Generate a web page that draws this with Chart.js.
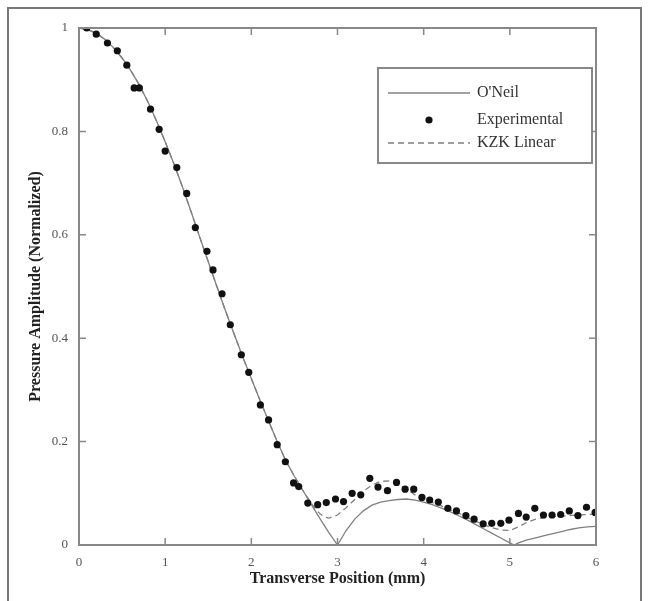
<!DOCTYPE html>
<html>
<head>
<meta charset="utf-8">
<script src="https://cdn.jsdelivr.net/npm/chart.js@4.4.1/dist/chart.umd.min.js"></script>
<style>
  body { margin: 0; background: #fff; }
  #wrap { position: relative; width: 648px; height: 601px; overflow: hidden; }
  #frame { position: absolute; left: 7px; top: 7px; width: 631px; height: 640px; border: 2px solid #777; }
  canvas { position: absolute; left: 0; top: 0; }
</style>
</head>
<body>
<div id="wrap">
  <div id="frame"></div>
  <canvas id="chart" width="648" height="601"></canvas>
</div>
<script>
// O'Neil theory curve
const oneilX = [0, 0.1, 0.2, 0.3, 0.4, 0.5, 0.6, 0.7, 0.8, 0.9, 1.0, 1.1, 1.2, 1.3, 1.4, 1.5, 1.6, 1.7, 1.8, 1.9,
  2.0, 2.1, 2.2, 2.3, 2.4, 2.5, 2.6, 2.7, 2.8, 2.9, 3.0, 3.1, 3.2, 3.3, 3.4, 3.5, 3.6, 3.7, 3.8, 3.9,
  4.0, 4.1, 4.2, 4.3, 4.4, 4.5, 4.6, 4.7, 4.8, 4.9, 5.0, 5.05, 5.1, 5.2, 5.3, 5.4, 5.5, 5.6, 5.7, 5.8, 5.9, 6.0];
const oneilY = [1.0, 0.997, 0.99, 0.978, 0.962, 0.942, 0.918, 0.89, 0.857, 0.82, 0.78, 0.738, 0.693, 0.645, 0.596, 0.548, 0.5, 0.453, 0.408, 0.364,
  0.322, 0.28, 0.24, 0.2, 0.163, 0.133, 0.105, 0.077, 0.05, 0.024, 0.0, 0.028, 0.05, 0.066, 0.077, 0.083, 0.086, 0.088, 0.089, 0.087,
  0.083, 0.078, 0.072, 0.065, 0.057, 0.049, 0.04, 0.031, 0.022, 0.013, 0.004, 0.0, 0.004, 0.01, 0.014, 0.018, 0.022, 0.026, 0.03, 0.033, 0.035, 0.036];

// measured points
const expX = [0.09, 0.2, 0.33, 0.445, 0.555, 0.64, 0.70, 0.83, 0.93, 1.0, 1.135, 1.25, 1.35, 1.485, 1.555, 1.66, 1.756, 1.884, 1.97,
  2.105, 2.2, 2.3, 2.395, 2.49, 2.55, 2.655, 2.77, 2.87, 2.977, 3.07, 3.17, 3.27, 3.375, 3.47, 3.58, 3.685, 3.785, 3.885, 3.98,
  4.07, 4.17, 4.28, 4.38, 4.49, 4.585, 4.69, 4.79, 4.895, 4.99, 5.10, 5.19, 5.29, 5.39, 5.49, 5.59, 5.69, 5.79, 5.89, 5.99];
const expY = [1.0, 0.988, 0.971, 0.956, 0.928, 0.884, 0.884, 0.843, 0.804, 0.762, 0.73, 0.68, 0.614, 0.568, 0.532, 0.486, 0.426, 0.368, 0.334,
  0.271, 0.242, 0.194, 0.161, 0.12, 0.113, 0.081, 0.078, 0.082, 0.089, 0.084, 0.1, 0.097, 0.129, 0.112, 0.105, 0.121, 0.108, 0.108, 0.092,
  0.087, 0.083, 0.071, 0.066, 0.057, 0.05, 0.041, 0.042, 0.042, 0.048, 0.061, 0.054, 0.071, 0.058, 0.058, 0.059, 0.066, 0.057, 0.073, 0.063];

// KZK linear simulation
const kzkX = [0, 0.1, 0.2, 0.3, 0.4, 0.5, 0.6, 0.7, 0.8, 0.9, 1.0, 1.1, 1.2, 1.3, 1.4, 1.5, 1.6, 1.7, 1.8, 1.9,
  2.0, 2.1, 2.2, 2.3, 2.4, 2.5, 2.6, 2.7, 2.75, 2.8, 2.85, 2.9, 3.0, 3.1, 3.2, 3.3, 3.4, 3.5, 3.6, 3.7, 3.8, 3.9,
  4.0, 4.1, 4.2, 4.3, 4.4, 4.5, 4.6, 4.7, 4.8, 4.9, 5.0, 5.1, 5.2, 5.3, 5.4, 5.5, 5.6, 5.7, 5.8, 5.9, 6.0];
const kzkY = [1.0, 0.997, 0.99, 0.978, 0.962, 0.942, 0.918, 0.89, 0.857, 0.82, 0.78, 0.738, 0.693, 0.645, 0.596, 0.548, 0.5, 0.453, 0.408, 0.364,
  0.322, 0.28, 0.24, 0.2, 0.163, 0.133, 0.105, 0.08, 0.068, 0.06, 0.054, 0.052, 0.058, 0.072, 0.088, 0.104, 0.116, 0.123, 0.124, 0.118, 0.108, 0.097,
  0.088, 0.082, 0.076, 0.069, 0.062, 0.054, 0.046, 0.039, 0.033, 0.029, 0.028, 0.035, 0.044, 0.05, 0.053, 0.055, 0.056, 0.057, 0.058, 0.059, 0.06];

const toPts = (xs, ys) => xs.map((x, i) => ({ x: x, y: ys[i] }));

const serif = '"Liberation Serif", "Times New Roman", serif';
const axisColor = '#888';

// frame round the plot area with inward ticks on all four sides
const frameTicks = {
  id: 'frameTicks',
  afterDatasetsDraw(chart) {
    const { ctx, chartArea: a, scales } = chart;
    const len = 7;
    ctx.save();
    ctx.strokeStyle = axisColor;
    ctx.lineWidth = 2;
    ctx.strokeRect(a.left, a.top, a.right - a.left, a.bottom - a.top);
    ctx.lineWidth = 1.5;
    ctx.beginPath();
    scales.x.ticks.forEach(t => {
      const px = scales.x.getPixelForValue(t.value);
      ctx.moveTo(px, a.bottom); ctx.lineTo(px, a.bottom - len);
      ctx.moveTo(px, a.top); ctx.lineTo(px, a.top + len);
    });
    scales.y.ticks.forEach(t => {
      const py = scales.y.getPixelForValue(t.value);
      ctx.moveTo(a.left, py); ctx.lineTo(a.left + len, py);
      ctx.moveTo(a.right, py); ctx.lineTo(a.right - len, py);
    });
    ctx.stroke();
    ctx.restore();
  }
};

// legend box in upper right of the plot
const boxLegend = {
  id: 'boxLegend',
  afterDraw(chart) {
    const { ctx, chartArea: a } = chart;
    const left = a.right - 218, top = a.top + 40, w = 214, h = 95;
    const rows = [25, 52, 75];
    ctx.save();
    ctx.fillStyle = '#fff';
    ctx.fillRect(left, top, w, h);
    ctx.strokeStyle = axisColor;
    ctx.lineWidth = 2;
    ctx.strokeRect(left, top, w, h);
    ctx.font = '16px ' + serif;
    ctx.textBaseline = 'middle';
    chart.data.datasets.forEach((ds, i) => {
      const y = top + rows[i];
      if (ds.showLine) {
        ctx.strokeStyle = ds.borderColor;
        ctx.lineWidth = ds.borderWidth;
        ctx.setLineDash(ds.borderDash || []);
        ctx.beginPath();
        ctx.moveTo(left + 10, y);
        ctx.lineTo(left + 92, y);
        ctx.stroke();
        ctx.setLineDash([]);
      } else {
        ctx.fillStyle = ds.backgroundColor;
        ctx.beginPath();
        ctx.arc(left + 51, y, ds.pointRadius, 0, Math.PI * 2);
        ctx.fill();
      }
      ctx.fillStyle = '#333';
      ctx.fillText(ds.label, left + 99, y);
    });
    ctx.restore();
  }
};

new Chart(document.getElementById('chart'), {
  type: 'scatter',
  data: {
    datasets: [
      {
        label: "O'Neil",
        data: toPts(oneilX, oneilY),
        showLine: true,
        borderColor: '#808080',
        borderWidth: 1.3,
        pointRadius: 0,
        tension: 0,
        order: 1
      },
      {
        label: 'Experimental',
        data: toPts(expX, expY),
        showLine: false,
        backgroundColor: '#111',
        borderWidth: 0,
        pointRadius: 3.6,
        order: 0
      },
      {
        label: 'KZK Linear',
        data: toPts(kzkX, kzkY),
        showLine: true,
        borderColor: '#808080',
        borderWidth: 1.3,
        borderDash: [6, 4],
        pointRadius: 0,
        tension: 0,
        order: 2
      }
    ]
  },
  options: {
    responsive: false,
    animation: false,
    layout: { padding: { left: 0, top: 28, right: 52, bottom: 0 } },
    plugins: {
      legend: { display: false },
      tooltip: { enabled: false }
    },
    scales: {
      x: {
        type: 'linear',
        min: 0,
        max: 6,
        grid: { display: false, drawTicks: false },
        border: { display: false },
        ticks: { stepSize: 1, padding: 10, color: '#555', font: { family: serif, size: 13 } },
        title: {
          display: true,
          text: 'Transverse Position (mm)',
          color: '#222',
          font: { family: serif, size: 16, weight: 'bold' },
          padding: { top: 0, bottom: 13 }
        },
        afterFit(scale) { scale.height = 56; }
      },
      y: {
        type: 'linear',
        min: 0,
        max: 1,
        grid: { display: false, drawTicks: false },
        border: { display: false },
        ticks: {
          stepSize: 0.2,
          padding: 11,
          color: '#555',
          font: { family: serif, size: 13 },
          callback: v => String(Number(v.toFixed(1)))
        },
        title: {
          display: true,
          text: 'Pressure Amplitude (Normalized)',
          color: '#222',
          font: { family: serif, size: 16, weight: 'bold' },
          padding: { top: 26, bottom: 0 }
        },
        afterFit(scale) { scale.width = 79; }
      }
    }
  },
  plugins: [frameTicks, boxLegend]
});
</script>
</body>
</html>
